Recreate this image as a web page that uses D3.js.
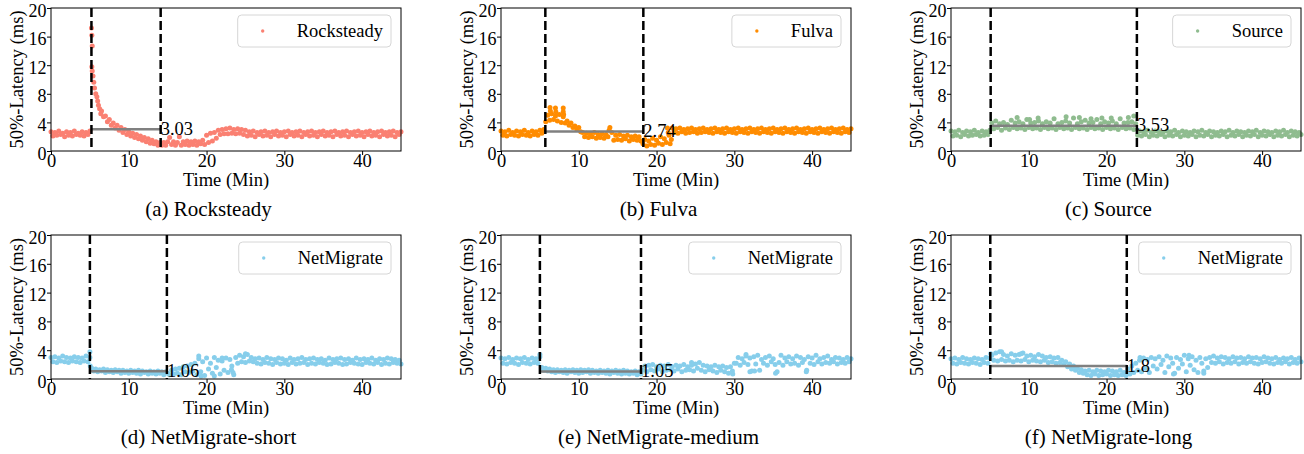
<!DOCTYPE html>
<html>
<head>
<meta charset="utf-8">
<script src="https://cdn.jsdelivr.net/npm/d3@7"></script>
<style>
  body { margin: 0; background: #fff; }
  text { font-family: "Liberation Serif", "Times New Roman", serif; }
</style>
</head>
<body>
<div id="chart"></div>
<script>
// samples are 0.25 min apart, starting at t = 0
const STEP = 0.25;
const xTicks = [0, 10, 20, 30, 40];
const yTicks = [0, 4, 8, 12, 16, 20];

const rockLatency = [
  2.7,2.1,2.6,2.2,2.8,2.3,2.5,2.0,2.7,2.2,2.6,2.1,2.8,2.3,2.5,2.2,2.7,2.1,2.6,2.3,2.8,
  11.8,9.6,8.0,7.0,5.9,5.6,4.8,4.9,4.1,4.4,3.6,3.9,3.2,3.6,2.9,3.3,2.6,3.0,2.3,2.7,
  2.1,2.5,1.9,2.3,1.7,2.1,1.5,1.9,1.3,1.7,1.1,1.5,1.0,1.3,0.8,1.2,
  0.8,1.2,0.8,1.3,1.9,0.9,1.3,0.8,1.2,2.0,0.8,1.3,0.9,1.4,0.8,1.3,0.9,1.4,0.8,1.3,1.0,1.5,0.9,
  2.2,1.2,2.5,1.4,2.6,1.8,2.9,2.3,3.0,2.4,3.1,2.4,3.2,2.5,3.0,2.4,3.1,2.5,3.0,2.3,2.9,
  2.1,2.7,2.2,2.8,2.0,2.6,2.3,2.7,2.1,2.8,2.2,2.6,2.0,2.7,2.3,2.8,2.1,2.6,2.2,2.7,
  2.0,2.8,2.3,2.6,2.1,2.7,2.2,2.8,2.0,2.6,2.3,2.7,2.1,2.8,2.2,2.6,2.0,2.7,2.3,2.8,
  2.1,2.6,2.2,2.7,2.0,2.8,2.3,2.6,2.1,2.7,2.2,2.8,2.0,2.6,2.3,2.7,2.1,2.8,2.2,2.6,
  2.0,2.7,2.3,2.8,2.1,2.6,2.2,2.7,2.0,2.8,2.3,2.6,2.1,2.7,2.2,2.8,2.0,2.6,2.3,2.7
];
const rockOutliers = [[5.2,17.2],[5.25,16.2],[5.3,14.7],[5.3,11.2],[5.4,10.5],[5.6,8.8],[5.9,7.6],[6.1,6.4],[6.4,5.2]];

const fulvaLatency = [
  2.8,2.2,2.7,2.1,2.9,2.3,2.6,2.2,2.8,2.1,2.7,2.3,2.9,2.2,2.6,2.1,2.8,2.3,2.7,2.2,2.9,2.5,3.0,
  4.1,5.0,4.3,5.2,4.4,4.9,4.2,5.1,4.0,4.8,3.9,
  4.2,3.6,3.9,3.3,3.5,3.0,3.3,2.7,
  2.6,2.0,2.5,1.9,2.4,2.0,2.6,1.8,2.3,1.9,2.4,1.8,2.3,2.0,
  3.3,2.6,
  1.5,2.2,1.6,2.3,1.5,2.1,1.7,2.2,1.4,2.0,1.6,2.1,1.5,2.0,1.4,
  1.0,1.6,0.7,1.4,0.9,1.8,0.8,1.5,1.1,2.0,0.9,1.7,1.2,2.6,1.0,
  3.2,2.6,3.1,2.5,3.2,2.7,3.0,2.5,3.1,2.6,3.2,2.7,3.0,2.5,3.1,2.6,3.2,2.7,3.0,2.6,
  3.1,2.5,3.2,2.7,3.0,2.6,3.1,2.5,3.2,2.7,3.0,2.6,3.1,2.5,3.2,2.7,3.0,2.6,3.1,2.5,
  3.2,2.7,3.0,2.6,3.1,2.5,3.2,2.7,3.0,2.6,3.1,2.5,3.2,2.7,3.0,2.6,3.1,2.5,3.2,2.7,
  3.0,2.6,3.1,2.5,3.2,2.7,3.0,2.6,3.1,2.5,3.2,2.7,3.0,2.6,3.1,2.5,3.2,2.7,3.0,2.6,
  3.1,2.5,3.2,2.7,3.0,2.6,3.1,2.5,3.2,2.7,3.0,2.6,3.1
];
const fulvaOutliers = [[6.3,6.1],[6.35,5.6],[7.0,6.0],[7.05,5.5],[8.0,6.0],[8.0,5.5],[8.05,5.1],[13.9,2.9],[21.4,3.2],[21.6,2.2],[21.9,1.6]];

const sourceLatency = [
  2.8,2.1,2.7,2.2,2.9,2.0,2.6,2.3,2.8,2.1,2.7,2.2,2.9,2.3,2.6,2.1,2.8,2.2,2.7,2.3,2.9,
  3.9,3.1,4.2,3.3,3.8,2.9,4.0,3.2,3.7,3.0,4.3,3.3,3.9,3.1,4.1,3.2,3.8,3.0,4.4,3.3,
  3.9,3.1,4.0,3.2,4.2,3.0,3.8,3.3,4.1,3.1,3.9,3.2,4.5,3.0,3.8,3.3,4.0,3.1,4.2,3.2,
  3.9,3.0,4.6,3.3,3.8,3.1,4.1,3.2,4.3,3.0,3.9,3.3,4.0,3.1,4.4,3.2,3.8,3.0,4.1,3.3,
  3.9,3.1,4.2,3.2,3.8,3.0,4.5,3.3,3.9,3.1,4.0,3.2,4.1,3.0,3.8,
  2.2,2.8,2.1,2.7,2.3,2.9,2.0,2.6,2.2,2.8,2.1,2.7,2.3,2.6,2.0,2.8,2.2,2.7,2.1,2.9,
  2.3,2.6,2.0,2.8,2.2,2.7,2.1,2.6,2.3,2.8,2.0,2.7,2.2,2.9,2.1,2.6,2.3,2.8,2.0,2.7,
  2.2,2.6,2.1,2.8,2.3,2.7,2.0,2.9,2.2,2.6,2.1,2.8,2.3,2.7,2.0,2.6,2.2,2.8,2.1,2.7,
  2.3,2.9,2.0,2.6,2.2,2.8,2.1,2.7,2.3,2.6,2.0,2.8,2.2,2.7,2.1,2.9,2.3,2.6,2.0,2.8,
  2.2,2.7,2.1,2.6,2.3
];
const sourceOutliers = [[8.5,4.7],[10.1,4.4],[11.2,4.6],[14.8,4.8],[16.5,4.7],[18.0,4.5],[19.4,4.6],[20.6,4.6],[22.8,4.7],[23.5,4.9]];

const shortLatency = [
  3.0,2.4,3.1,2.3,2.9,2.5,3.2,2.4,3.0,2.3,2.9,2.5,3.1,2.4,3.0,2.3,2.9,2.5,3.2,2.4,3.0,
  1.5,1.1,1.4,1.0,1.3,1.1,1.4,0.9,1.3,1.0,1.2,0.9,1.3,1.0,1.2,0.8,1.2,0.9,1.1,0.8,
  1.2,0.9,1.1,0.8,1.2,0.7,1.1,0.9,1.0,0.7,1.1,0.8,1.0,0.7,1.1,0.8,1.0,0.6,1.0,0.8,
  0.6,1.2,0.7,1.4,0.8,1.5,0.6,1.7,1.0,1.8,0.9,2.0,1.1,2.2,
  0.6,2.8,1.0,2.4,0.5,2.9,1.4,2.2,0.8,3.0,1.6,2.6,0.7,2.5,1.2,2.9,0.9,2.7,1.8,0.6,
  3.0,2.2,3.3,2.4,3.1,2.3,3.4,2.5,3.0,2.4,
  2.8,2.2,2.9,2.1,2.7,2.3,3.0,2.2,2.8,2.0,2.7,2.3,2.9,2.1,2.8,2.2,2.6,2.0,2.9,2.3,
  2.7,2.1,2.8,2.2,3.0,2.3,2.7,2.0,2.8,2.2,2.9,2.1,2.7,2.3,2.8,2.2,2.6,2.0,2.9,2.1,
  2.7,2.3,2.8,2.2,2.9,2.0,2.7,2.1,2.8,2.3,2.6,2.2,2.9,2.1,2.7,2.0,2.8,2.3,2.7,2.2,
  2.9,2.1,2.6,2.3,2.8,2.0,2.7,2.2,2.9,2.1,2.8,2.3,2.7,2.2,2.6,2.1
];
const shortOutliers = [[5.0,3.8],[5.05,1.8],[19.0,3.2],[19.3,0.4],[21.0,0.4],[22.0,2.9],[23.2,1.3],[23.4,0.9],[25.0,3.5]];

const mediumLatency = [
  2.9,2.2,2.8,2.1,3.0,2.3,2.7,2.2,2.9,2.0,2.8,2.3,3.0,2.2,2.7,2.1,2.9,2.3,2.8,2.2,3.1,
  1.6,1.2,1.5,1.1,1.4,1.0,1.3,0.9,1.3,1.0,1.2,0.9,1.3,0.8,1.2,1.0,1.3,0.9,1.2,0.8,
  1.3,0.9,1.2,1.0,1.3,0.8,1.2,0.9,1.1,0.8,1.2,0.9,1.1,0.8,1.2,0.7,1.1,0.9,1.2,0.8,
  1.1,0.7,1.2,0.8,1.1,0.7,1.0,0.8,1.1,0.6,1.0,0.7,
  1.2,1.8,1.0,1.9,1.3,2.0,1.1,1.7,1.4,1.9,1.0,1.8,1.2,2.0,1.3,1.7,1.1,1.9,1.4,1.8,
  1.0,2.0,1.2,1.7,1.3,1.9,1.1,2.1,1.5,2.3,1.2,1.9,1.0,1.8,1.3,1.7,1.1,1.9,0.9,1.7,
  1.2,1.8,1.0,1.6,0.8,1.7,1.1,2.2,
  2.2,3.0,1.9,2.8,2.3,3.2,2.0,2.9,1.1,3.1,2.1,3.3,1.2,2.7,2.2,3.0,1.9,3.2,2.4,2.8,
  2.0,1.0,2.3,3.3,1.9,2.9,2.4,3.1,2.1,2.8,2.2,3.2,1.9,3.0,2.3,2.7,1.0,3.1,2.2,2.9,
  2.0,3.3,2.4,2.8,2.1,3.0,2.3,3.2,2.2,2.7,2.4,3.0,2.1,2.9,2.3,2.7,2.2,3.0,2.4,2.8
];
const mediumOutliers = [[5.0,3.4],[24.5,2.3],[29.8,0.7],[31.5,3.4],[32.0,1.0],[32.6,1.1],[35.3,0.8],[39.3,1.2]];

const longLatency = [
  2.8,2.2,2.9,2.1,2.7,2.3,3.0,2.2,2.8,2.1,2.7,2.3,2.9,2.2,2.8,2.0,2.7,2.3,3.0,2.2,2.9,
  3.3,2.6,3.6,2.5,3.8,2.7,3.4,2.5,3.2,2.6,3.5,2.4,3.3,2.6,3.4,2.5,3.6,2.7,3.2,2.4,
  3.3,2.6,3.1,2.5,3.4,2.4,3.2,2.6,3.0,2.3,3.1,2.4,2.9,2.2,3.0,2.3,
  2.6,2.0,2.4,1.7,2.1,1.4,1.8,1.2,1.5,0.9,1.3,0.8,
  1.1,0.6,1.2,0.5,1.0,0.7,1.2,0.5,1.1,0.6,1.0,0.7,1.2,0.5,1.1,0.6,1.0,0.5,1.2,0.6,0.9,0.5,
  1.4,0.7,1.8,0.9,2.2,1.2,2.6,1.0,2.9,1.5,2.7,0.9,3.0,1.8,
  2.8,1.4,3.1,2.0,2.6,0.9,3.2,1.7,2.9,2.2,0.8,3.0,1.5,2.7,2.1,3.3,1.0,2.8,1.9,3.1,
  1.3,2.6,0.9,3.0,2.2,1.1,2.8,1.6,
  3.0,2.3,3.2,2.2,2.9,2.4,3.1,2.1,3.0,2.3,2.8,2.2,3.1,2.4,2.9,2.1,3.0,2.3,2.8,2.2,
  3.1,2.4,2.9,2.2,3.0,2.1,2.8,2.3,3.1,2.4,2.9,2.2,2.8,2.1,3.0,2.3,2.7,2.2,2.9,2.4,
  2.8,2.1,3.0,2.3,2.7,2.2,2.9,2.4
];
const longOutliers = [[5.1,3.5],[6.5,3.8],[9.0,3.5],[24.3,3.0],[28.6,0.7],[30.6,3.3],[32.5,0.8]];

const seriesNames = ['Rocksteady', 'Fulva', 'Source', 'NetMigrate', 'NetMigrate', 'NetMigrate'];
const captions = ['(a) Rocksteady', '(b) Fulva', '(c) Source', '(d) NetMigrate-short', '(e) NetMigrate-medium', '(f) NetMigrate-long'];
const migrationStart = [5.2, 5.7, 5.1, 5.0, 5.0, 5.05];
const migrationEnd = [14.1, 18.3, 23.9, 14.9, 18.0, 22.6];
const meanLatency = [3.03, 2.74, 3.53, 1.06, 1.05, 1.8];
const meanLabels = ['3.03', '2.74', '3.53', '1.06', '1.05', '1.8'];
const colors = ['#fa8072', '#ff8c00', '#8fbc8f', '#87ceeb', '#87ceeb', '#87ceeb'];

const panels = [
  { values: rockLatency, extra: rockOutliers },
  { values: fulvaLatency, extra: fulvaOutliers },
  { values: sourceLatency, extra: sourceOutliers },
  { values: shortLatency, extra: shortOutliers },
  { values: mediumLatency, extra: mediumOutliers },
  { values: longLatency, extra: longOutliers },
];

const W = 1304, H = 454;
const colX = [51, 501, 951];
const rowY = [8, 235];
const rowH = [143, 144];
const pw = 350;
const FS = 18.5;

const svg = d3.select('#chart').append('svg')
  .attr('width', W)
  .attr('height', H);

panels.forEach((p, i) => {
  const row = Math.floor(i / 3);
  const ph = rowH[row];
  const g = svg.append('g')
    .attr('transform', `translate(${colX[i % 3]},${rowY[row]})`);

  const x = d3.scaleLinear().domain([0, 45]).range([0, pw]);
  const y = d3.scaleLinear().domain([0, 20]).range([ph, 0]);

  // scatter of samples
  const pts = p.values.map((v, k) => [k * STEP, v]).concat(p.extra);
  g.append('g')
    .selectAll('circle')
    .data(pts)
    .join('circle')
    .attr('cx', (d) => x(d[0]))
    .attr('cy', (d) => y(d[1]))
    .attr('r', 2.5)
    .attr('fill', colors[i]);

  // mean latency during migration
  g.append('line')
    .attr('x1', x(migrationStart[i]))
    .attr('x2', x(migrationEnd[i]))
    .attr('y1', y(meanLatency[i]))
    .attr('y2', y(meanLatency[i]))
    .attr('stroke', '#808080')
    .attr('stroke-width', 2.5);

  // migration window
  [migrationStart[i], migrationEnd[i]].forEach((t) => {
    g.append('line')
      .attr('x1', x(t)).attr('x2', x(t))
      .attr('y1', 0).attr('y2', ph)
      .attr('stroke', '#000')
      .attr('stroke-width', 2.5)
      .attr('stroke-dasharray', '9,4');
  });

  g.append('text')
    .attr('x', x(migrationEnd[i]))
    .attr('y', y(meanLatency[i]))
    .attr('dy', '0.3em')
    .style('font-size', `${FS}px`)
    .text(meanLabels[i]);

  // axes
  const xa = g.append('g')
    .attr('transform', `translate(0,${ph})`)
    .call(d3.axisBottom(x).tickValues(xTicks).tickSize(4).tickPadding(-1));
  const ya = g.append('g')
    .call(d3.axisLeft(y).tickValues(yTicks).tickSize(4).tickPadding(0.5));
  [xa, ya].forEach((a) => {
    a.select('.domain').remove();
    a.selectAll('text').style('font-size', `${FS}px`).attr('fill', '#000')
      .style('font-family', '"Liberation Serif", serif');
    a.selectAll('line').attr('stroke', '#000');
  });
  ya.selectAll('text').attr('dy', '0.45em').style('font-size', '18px');

  g.append('rect')
    .attr('width', pw).attr('height', ph)
    .attr('fill', 'none')
    .attr('stroke', '#000')
    .attr('stroke-width', 1);

  g.append('text')
    .attr('x', pw / 2).attr('y', ph + 34.5)
    .attr('text-anchor', 'middle')
    .style('font-size', `${FS}px`)
    .text('Time (Min)');

  g.append('text')
    .attr('transform', `translate(-34,${ph / 2}) rotate(-90)`)
    .attr('text-anchor', 'middle')
    .attr('dy', '0.3em')
    .style('font-size', `${FS}px`)
    .text('50%-Latency (ms)');

  g.append('text')
    .attr('x', pw / 2 - 17.5).attr('y', ph + 65)
    .attr('text-anchor', 'middle')
    .style('font-size', '21px')
    .text(captions[i]);

  // legend
  const leg = g.append('g');
  const box = leg.append('rect');
  const lt = leg.append('text')
    .style('font-size', `${FS}px`)
    .text(seriesNames[i]);
  const tw = lt.node().getComputedTextLength();
  const lw = tw + 67;
  const lx = pw - 10 - lw, ly = 7;
  box.attr('x', lx).attr('y', ly)
    .attr('width', lw).attr('height', 32)
    .attr('rx', 4)
    .attr('fill', '#fff').attr('fill-opacity', 0.8)
    .attr('stroke', '#d6d6d6');
  leg.append('circle')
    .attr('cx', lx + 25).attr('cy', ly + 16)
    .attr('r', 1.7)
    .attr('fill', colors[i]);
  lt.attr('x', lx + 59).attr('y', ly + 21.5);
});
</script>
</body>
</html>
